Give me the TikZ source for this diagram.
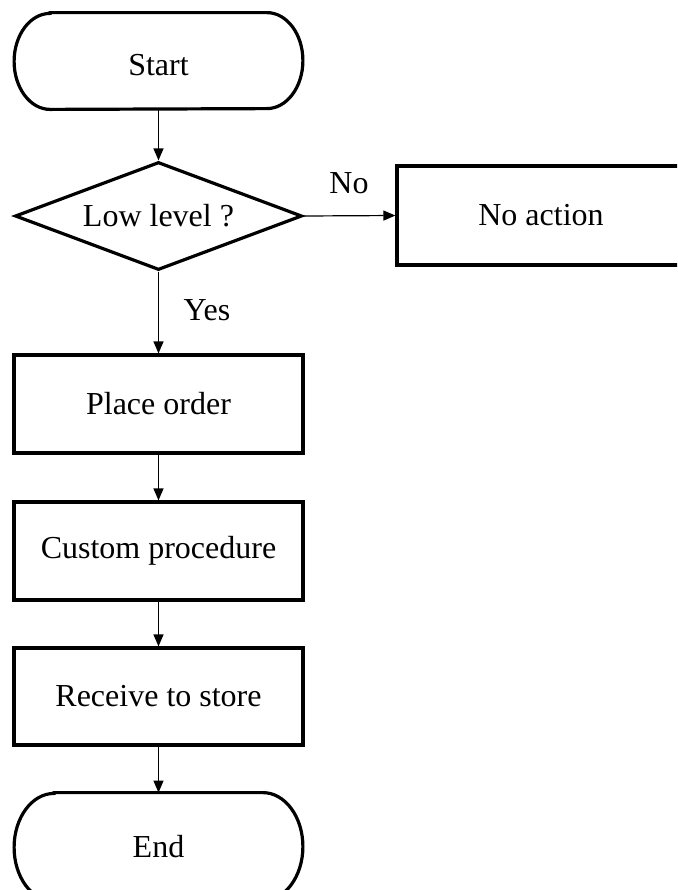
\documentclass[tikz,border=0pt]{standalone}
\usepackage{fontspec}
\setmainfont{Liberation Serif}
\usetikzlibrary{shapes.geometric,arrows.meta}
\begin{document}
\begin{tikzpicture}[x=0.5pt,y=0.5pt,
  every node/.style={font=\fontsize{16}{19}\selectfont},
  outline/.style={draw=black,line width=1.6pt},
  termtext/.style={minimum width=144pt,inner sep=0pt},
  procbox/.style={outline,rectangle,minimum width=144.5pt,minimum height=49pt,inner sep=0pt},
  decision/.style={outline,diamond,aspect=2.66,minimum width=143.5pt,minimum height=54pt,inner sep=0pt},
  flow/.style={draw=black,line width=0.6pt,-{Triangle[length=6pt,width=5pt]}},
  tag/.style={inner sep=0pt}
]
\useasboundingbox (0,0) rectangle (677,-890);
\clip (0,0) rectangle (677,-890);

% terminal: Start (text sits a little below the middle)
\node[termtext,minimum height=48pt,text height=14.5pt,text depth=0pt] (start) at (158.5,-61) {Start};
\draw[outline] ([xshift=18pt]start.north west) -- ([xshift=-18pt]start.north east)
  arc[start angle=90,end angle=-90,x radius=18pt,y radius=24pt]
  -- ([xshift=18pt]start.south west)
  arc[start angle=270,end angle=90,x radius=18pt,y radius=24pt] -- cycle;

% decision
\node[decision] (low) at (158.5,-216) {Low level ?};

% process steps
\node[procbox,minimum width=144pt,minimum height=49.5pt] (noact) at (541,-215.5) {No action};
\node[procbox] (place) at (158.5,-404) {Place order};
\node[procbox] (custom) at (158.5,-551) {Custom procedure};
\node[procbox,minimum height=48.5pt] (recv) at (158.5,-696.5) {Receive to store};

% terminal: End
\node[termtext,minimum height=54pt] (stop) at (158.5,-847) {End};
\draw[outline] ([xshift=20pt]stop.north west) -- ([xshift=-20pt]stop.north east)
  arc[start angle=90,end angle=-90,x radius=20pt,y radius=27pt]
  -- ([xshift=20pt]stop.south west)
  arc[start angle=270,end angle=90,x radius=20pt,y radius=27pt] -- cycle;

% connectors
\draw[flow] (start.south) -- (low.north);
\draw[flow] (low.east) -- (noact.west);
\draw[flow] (low.south) -- (place.north);
\draw[flow] (place.south) -- (custom.north);
\draw[flow] (custom.south) -- (recv.north);
\draw[flow] (recv.south) -- (stop.north);

% branch labels
\node[tag] (lblno) at (349,-183) {No};
\node[tag] (lblyes) at (207,-310) {Yes};
\end{tikzpicture}
\end{document}
